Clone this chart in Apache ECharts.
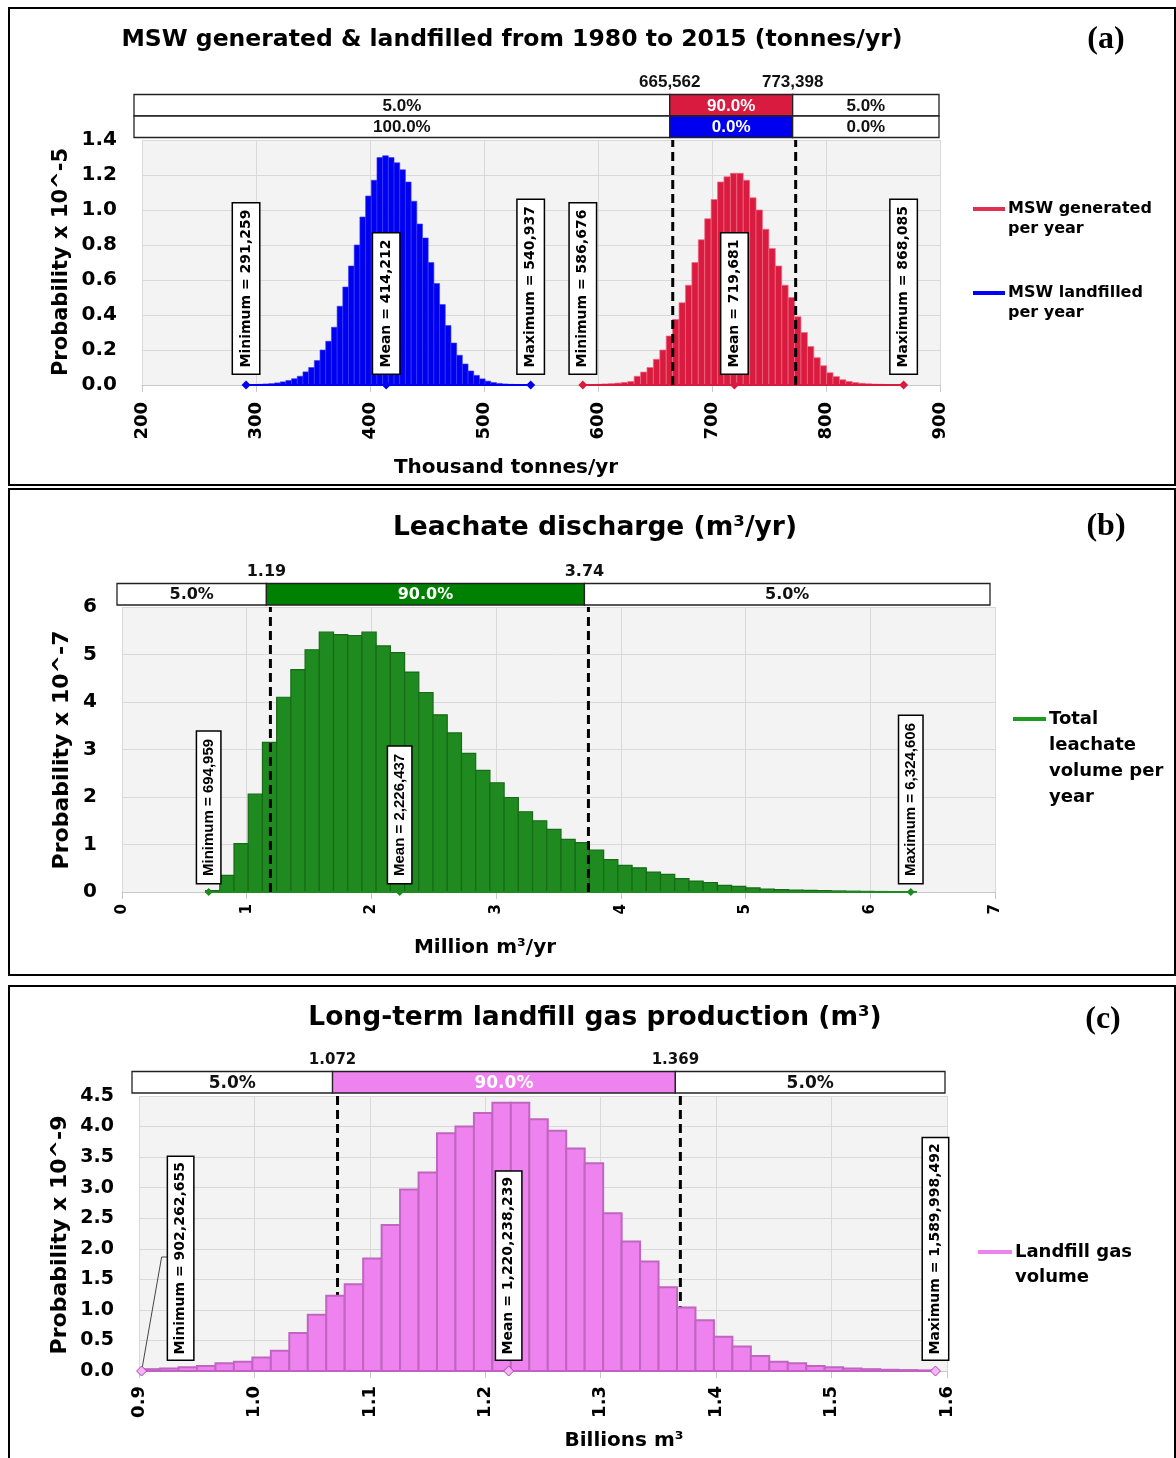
<!DOCTYPE html>
<html><head><meta charset="utf-8">
<script src="https://cdn.jsdelivr.net/npm/echarts@6/dist/echarts.min.js"></script>
<style>html,body{margin:0;padding:0;background:#fff}#c{width:1176px;height:1458px}</style>
</head><body><div id="c"></div>
<script>
// ---------- Panel (a): MSW generated & landfilled (thousand tonnes/yr, prob x 1e-5) ----------
const aBlueStart = 291.259, aBlueWidth = 4.99356;
const aBlueValues = [0.002,0.003,0.004,0.006,0.008,0.012,0.018,0.026,0.036,0.05,
  0.075,0.10,0.14,0.20,0.25,0.33,0.45,0.56,0.68,0.80,
  0.96,1.08,1.17,1.30,1.31,1.30,1.27,1.23,1.16,1.05,
  0.92,0.84,0.70,0.58,0.46,0.34,0.24,0.17,0.12,0.08,
  0.055,0.035,0.022,0.014,0.009,0.006,0.004,0.003,0.002,0.001];
const aRedStart = 586.676, aRedWidth = 5.62818;
const aRedValues = [0.002,0.003,0.004,0.006,0.008,0.011,0.015,0.02,0.05,0.074,
  0.10,0.147,0.20,0.28,0.375,0.47,0.57,0.70,0.83,0.95,
  1.06,1.16,1.19,1.21,1.21,1.17,1.07,1.00,0.89,0.78,
  0.68,0.57,0.50,0.39,0.30,0.22,0.156,0.11,0.07,0.048,
  0.03,0.02,0.014,0.01,0.007,0.005,0.004,0.003,0.002,0.001];
const aBlueStats = [291.259, 414.212, 540.937];
const aBlueLabels = ['Minimum = 291,259', 'Mean = 414,212', 'Maximum = 540,937'];
const aRedStats = [586.676, 719.681, 868.085];
const aRedLabels = ['Minimum = 586,676', 'Mean = 719,681', 'Maximum = 868,085'];
const aCuts = [665.562, 773.398];
const aCutLabels = ['665,562', '773,398'];
const aBandRows = [['5.0%', '90.0%', '5.0%'], ['100.0%', '0.0%', '0.0%']];
const aXTicks = [200, 900, 100];
const aYTicks = [0, 1.4, 0.2];

// ---------- Panel (b): Leachate discharge (million m3/yr, prob x 1e-7) ----------
const bStart = 0.67, bWidth = 0.114;
const bValues = [0.03,0.35,1.02,2.06,3.15,4.10,4.68,5.10,5.47,5.42,
  5.40,5.47,5.18,5.04,4.63,4.20,3.73,3.35,2.92,2.56,
  2.30,1.99,1.69,1.50,1.32,1.11,1.04,0.88,0.68,0.56,
  0.51,0.42,0.37,0.28,0.23,0.20,0.14,0.12,0.085,0.063,
  0.05,0.04,0.035,0.028,0.022,0.017,0.013,0.01,0.008,0.006];
const bStats = [0.694959, 2.226437, 6.324606];
const bLabels = ['Minimum = 694,959', 'Mean = 2,226,437', 'Maximum = 6,324,606'];
const bCuts = [1.19, 3.74];
const bCutLabels = ['1.19', '3.74'];
const bBandRows = [['5.0%', '90.0%', '5.0%']];
const bXTicks = [0, 7, 1];
const bYTicks = [0, 6, 1];

// ---------- Panel (c): Landfill gas (billion m3, prob x 1e-9) ----------
const cStart = 0.902263, cWidth = 0.015994;
const cValues = [0.03,0.04,0.06,0.08,0.125,0.15,0.22,0.33,0.62,0.92,
  1.23,1.42,1.84,2.39,2.97,3.25,3.89,4.00,4.22,4.39,
  4.39,4.12,3.93,3.64,3.40,2.58,2.12,1.79,1.37,1.04,
  0.83,0.56,0.40,0.245,0.15,0.125,0.08,0.06,0.04,0.03,
  0.02,0.015,0.01];
const cStats = [0.902262655, 1.220238239, 1.589998492];
const cLabels = ['Minimum = 902,262,655', 'Mean = 1,220,238,239', 'Maximum = 1,589,998,492'];
const cCuts = [1.072, 1.369];
const cCutLabels = ['1.072', '1.369'];
const cBandRows = [['5.0%', '90.0%', '5.0%']];
const cXTicks = [0.9, 1.6, 0.1];
const cYTicks = [0, 4.5, 0.5];

// ---------- styling ----------
const SANS = '"DejaVu Sans", Verdana, sans-serif';
const ARIAL = '"Liberation Sans", Arial, sans-serif';
const SERIF = '"Liberation Serif", "Times New Roman", serif';
const RED = '#d81b3f', BLUE = '#0000f0', GREEN = '#1f8a1f', VIOLET = '#ee82ee';

function histSeries(i, start, width, values, fill, stroke, lw, z) {
  const data = values.map((v, k) => [start + k * width, start + (k + 1) * width, v]);
  return {
    type: 'custom', xAxisIndex: i, yAxisIndex: i, data, z: z || 2, silent: true,
    encode: { x: [0, 1], y: 2 },
    renderItem(params, api) {
      const p0 = api.coord([api.value(0), api.value(2)]);
      const p1 = api.coord([api.value(1), 0]);
      return { type: 'rect', shape: { x: p0[0], y: p0[1], width: p1[0] - p0[0], height: p1[1] - p0[1] },
        style: { fill, stroke, lineWidth: lw } };
    }
  };
}

function statSeries(i, stats, labels, color, o) {
  const out = [
    { type: 'line', xAxisIndex: i, yAxisIndex: i, data: [[stats[0], 0], [stats[2], 0]], symbol: 'none',
      lineStyle: { color, width: 2 }, z: 4, silent: true },
    { type: 'scatter', xAxisIndex: i, yAxisIndex: i, z: 8, symbol: 'diamond', symbolSize: o.size, silent: true,
      itemStyle: { color: o.fill || color, borderColor: o.stroke || color, borderWidth: o.bw || 0, opacity: 1 },
      data: stats.map((s, k) => (o.leader && k === 0)
        ? { value: [s, 0], label: { offset: [0, o.leader] } }
        : { value: [s, 0] }),
      label: { show: true, position: 'top', distance: o.dist, rotate: 90, align: 'left', verticalAlign: 'middle',
        formatter: p => labels[p.dataIndex], backgroundColor: '#fff', borderColor: '#000', borderWidth: 1.5,
        padding: o.pad, color: '#000', fontFamily: o.font, fontWeight: 'bold', fontSize: o.fs, lineHeight: o.lh, opacity: 1 }
    }
  ];
  if (o.leader) {
    // thin leader line from the minimum point to its displaced label
    out.push({ type: 'custom', xAxisIndex: i, yAxisIndex: i, z: 7, silent: true, clip: false,
      data: [[stats[0], 0]], encode: { x: 0, y: 1 },
      renderItem(params, api) {
        const p = api.coord([api.value(0), api.value(1)]);
        return { type: 'polyline', shape: { points: [[p[0], p[1]], [p[0] + 20, p[1] - 114], [p[0] + 27, p[1] - 114]] },
          style: { stroke: '#444', lineWidth: 1, fill: null } };
      } });
  }
  return out;
}

function cutSeries(i, cut, ymax, z) {
  return { type: 'line', xAxisIndex: i, yAxisIndex: i, data: [[cut, 0], [cut, ymax]], symbol: 'none', silent: true,
    lineStyle: { color: '#000', width: 3, type: [9, 5] }, z: z };
}

function bandSeries(i, xmin, xmax, ymax, cuts, cutLabels, rows, midColors, cfg) {
  const data = [];
  const edges = [xmin, cuts[0], cuts[1], xmax];
  rows.forEach((row, r) => { for (let s = 0; s < 3; s++) data.push([edges[s], edges[s + 1], r, s]); });
  return {
    type: 'custom', xAxisIndex: i, yAxisIndex: i, clip: false, silent: true, z: 9, data,
    encode: { x: [0, 1] },
    renderItem(params, api) {
      const x0 = api.value(0), x1 = api.value(1), r = api.value(2), s = api.value(3);
      const top = api.coord([x0, ymax])[1];
      let px0 = api.coord([x0, 0])[0], px1 = api.coord([x1, 0])[0];
      if (s === 0) px0 -= cfg.leftExt; else px0 += cfg.shift;
      if (s === 2) px1 -= cfg.rightIn; else px1 += cfg.shift;
      const y0 = top - cfg.gap - (rows.length - r) * cfg.h;
      const mid = s === 1;
      const children = [
        { type: 'rect', shape: { x: px0, y: y0, width: px1 - px0, height: cfg.h },
          style: { fill: mid ? midColors[r] : '#fff', stroke: '#222', lineWidth: 1.3 } },
        { type: 'text', style: { text: rows[r][s], x: (px0 + px1) / 2, y: y0 + cfg.h / 2 + 1, align: 'center',
          verticalAlign: 'middle', fill: mid ? '#fff' : '#111', font: cfg.font } }
      ];
      if (r === 0 && mid) {
        const ty = y0 - cfg.cutGap;
        children.push({ type: 'text', style: { text: cutLabels[0], x: px0, y: ty, align: 'center', verticalAlign: 'middle', fill: '#111', font: cfg.cutFont } });
        children.push({ type: 'text', style: { text: cutLabels[1], x: px1, y: ty, align: 'center', verticalAlign: 'middle', fill: '#111', font: cfg.cutFont } });
      }
      return { type: 'group', children };
    }
  };
}

function xAxisCfg(i, t, fs, dec, margin) {
  return { gridIndex: i, type: 'value', min: t[0], max: t[1], interval: t[2],
    axisLabel: { rotate: 90, fontSize: fs, fontWeight: 'bold', fontFamily: SANS, color: '#000', margin: margin,
      formatter: v => (dec ? v.toFixed(dec) : String(Math.round(v))) },
    axisLine: { show: true, onZero: false, lineStyle: { color: '#c8c8c8', width: 1 } },
    axisTick: { show: true, length: 7, lineStyle: { color: '#c8c8c8' } },
    splitLine: { show: true, lineStyle: { color: '#d9d9d9', width: 1 } } };
}
function yAxisCfg(i, t, fs, dec) {
  return { gridIndex: i, type: 'value', min: t[0], max: t[1], interval: t[2],
    axisLabel: { fontSize: fs, fontWeight: 'bold', fontFamily: SANS, color: '#000', margin: 25,
      formatter: v => (dec ? v.toFixed(dec) : String(Math.round(v))) },
    axisLine: { show: false }, axisTick: { show: false },
    splitLine: { show: true, lineStyle: { color: '#d9d9d9', width: 1 } } };
}

const gridBase = { show: true, backgroundColor: '#f3f3f3', borderWidth: 0, containLabel: false, outerBoundsMode: 'none' };

const series = [
  histSeries(0, aBlueStart, aBlueWidth, aBlueValues, BLUE, '#3a3aff', 0.6),
  histSeries(0, aRedStart, aRedWidth, aRedValues, RED, '#f06a84', 0.7),
  ...statSeries(0, aBlueStats, aBlueLabels, BLUE, { size: 9, dist: 7, pad: [5, 6], font: SANS, fs: 14, lh: 16 }),
  ...statSeries(0, aRedStats, aRedLabels, RED, { size: 9, dist: 7, pad: [5, 6], font: SANS, fs: 14, lh: 16 }),
  cutSeries(0, aCuts[0], aYTicks[1], 6), cutSeries(0, aCuts[1], aYTicks[1], 6),
  bandSeries(0, aXTicks[0], aXTicks[1], aYTicks[1], aCuts, aCutLabels, aBandRows, [RED, BLUE],
    { h: 21.5, gap: 2.5, leftExt: 8, rightIn: 1, shift: -3, font: 'bold 17px ' + ARIAL, cutFont: 'bold 17px ' + ARIAL, cutGap: 12 }),

  histSeries(1, bStart, bWidth, bValues, GREEN, '#176b17', 1.2),
  ...statSeries(1, bStats, bLabels, GREEN, { size: 8, dist: 5, pad: [4, 7], font: ARIAL, fs: 15, lh: 15 }),
  cutSeries(1, bCuts[0], bYTicks[1], 6), cutSeries(1, bCuts[1], bYTicks[1], 6),
  bandSeries(1, bXTicks[0], bXTicks[1], bYTicks[1], bCuts, bCutLabels, bBandRows, ['#008000'],
    { h: 21.5, gap: 2, leftExt: 5, rightIn: 5, shift: -4, font: 'bold 16px ' + SANS, cutFont: 'bold 16px ' + SANS, cutGap: 12 }),

  cutSeries(2, cCuts[0], cYTicks[1], 1), cutSeries(2, cCuts[1], cYTicks[1], 1),
  histSeries(2, cStart, cWidth, cValues, VIOLET, '#c065c0', 2, 2),
  ...statSeries(2, cStats, cLabels, '#c060c0', { size: 10, dist: 6, pad: [5, 5], font: SANS, fs: 14, lh: 15,
    fill: '#f5b5f5', stroke: '#b040b0', bw: 1, leader: 39 }),
  bandSeries(2, cXTicks[0], cXTicks[1], cYTicks[1], cCuts, cCutLabels, cBandRows, [VIOLET],
    { h: 21.5, gap: 3, leftExt: 7, rightIn: 2, shift: -5, font: 'bold 17px ' + SANS, cutFont: 'bold 15px ' + SANS, cutGap: 11 })
];

function txt(text, x, y, font, opt) {
  return Object.assign({ type: 'text', x, y, silent: true, z: 20,
    style: { text, font, fill: '#000', align: 'center', verticalAlign: 'middle' } }, opt || {});
}
function vtxt(text, x, y, font) {
  return { type: 'text', x, y, rotation: Math.PI / 2, silent: true, z: 20,
    style: { text, font, fill: '#000', align: 'center', verticalAlign: 'middle' } };
}
function legendItem(color, x1, x2, y, text, lh, font) {
  return [
    { type: 'line', silent: true, z: 20, shape: { x1, y1: y, x2, y2: y }, style: { stroke: color, lineWidth: 4 } },
    { type: 'text', silent: true, z: 20, x: x2 + 3, y: y - lh / 2,
      style: { text, font, fill: '#000', align: 'left', verticalAlign: 'top', lineHeight: lh } }
  ];
}

const graphic = [
  { type: 'rect', silent: true, shape: { x: 9, y: 8, width: 1166, height: 477 }, style: { fill: 'none', stroke: '#000', lineWidth: 2 } },
  { type: 'rect', silent: true, shape: { x: 9, y: 489, width: 1166, height: 486 }, style: { fill: 'none', stroke: '#000', lineWidth: 2 } },
  { type: 'rect', silent: true, shape: { x: 9, y: 986, width: 1166, height: 490 }, style: { fill: 'none', stroke: '#000', lineWidth: 2 } },
  txt('MSW generated & landfilled from 1980 to 2015 (tonnes/yr)', 512, 40, 'bold 23.5px ' + SANS),
  txt('(a)', 1106, 40, 'bold 32px ' + SERIF),
  txt('Leachate discharge (m³/yr)', 595, 528, 'bold 26.5px ' + SANS),
  txt('(b)', 1106, 527, 'bold 32px ' + SERIF),
  txt('Long-term landfill gas production (m³)', 595, 1018, 'bold 26.5px ' + SANS),
  txt('(c)', 1103, 1020, 'bold 32px ' + SERIF),
  vtxt('Probability x 10^-5', 62, 262, 'bold 21px ' + SANS),
  vtxt('Probability x 10^-7', 62, 750, 'bold 22px ' + SANS),
  vtxt('Probability x 10^-9', 60, 1235, 'bold 22px ' + SANS),
  txt('Thousand tonnes/yr', 506, 468, 'bold 20px ' + SANS),
  txt('Million m³/yr', 485, 948, 'bold 20px ' + SANS),
  txt('Billions m³', 624, 1441, 'bold 20px ' + SANS),
  ...legendItem('#e0304f', 973, 1005, 209, 'MSW generated\nper year', 20, 'bold 16px ' + SANS),
  ...legendItem('#0000ff', 973, 1005, 293, 'MSW landfilled\nper year', 20, 'bold 16px ' + SANS),
  ...legendItem('#1e9b1e', 1013, 1046, 719, 'Total\nleachate\nvolume per\nyear', 26, 'bold 18px ' + SANS),
  ...legendItem(VIOLET, 978, 1012, 1252, 'Landfill gas\nvolume', 25, 'bold 18px ' + SANS)
];

const chart = echarts.init(document.getElementById('c'), null, { renderer: 'canvas' });
chart.setOption({
  animation: false,
  backgroundColor: '#fff',
  textStyle: { fontFamily: SANS },
  grid: [
    Object.assign({ left: 142, top: 140, width: 798, height: 245 }, gridBase),
    Object.assign({ left: 122, top: 607, width: 873, height: 285 }, gridBase),
    Object.assign({ left: 139, top: 1096, width: 808, height: 275 }, gridBase)
  ],
  xAxis: [xAxisCfg(0, aXTicks, 18, 0, 17), xAxisCfg(1, bXTicks, 15, 0, 12), xAxisCfg(2, cXTicks, 18, 1, 15)],
  yAxis: [yAxisCfg(0, aYTicks, 20, 1), yAxisCfg(1, bYTicks, 20, 0), yAxisCfg(2, cYTicks, 19, 1)],
  series,
  graphic
});
</script></body></html>
